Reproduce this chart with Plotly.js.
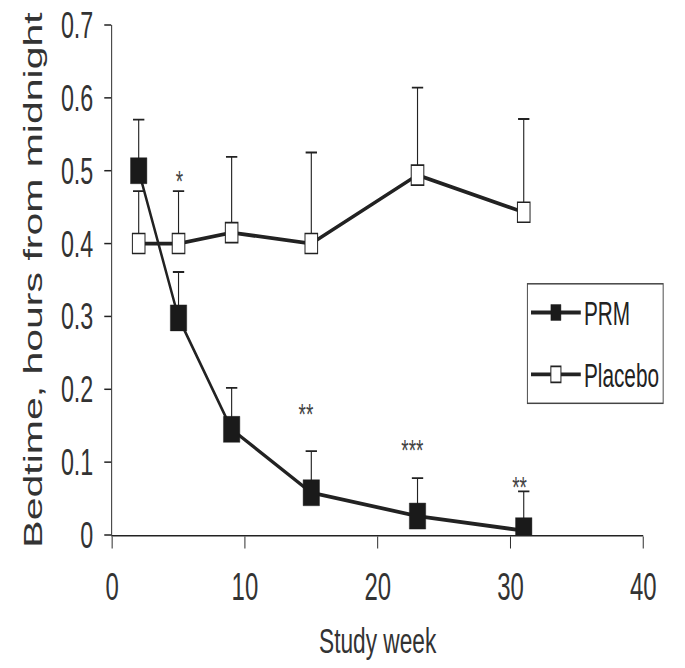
<!DOCTYPE html>
<html>
<head>
<meta charset="utf-8">
<script src="https://cdn.plot.ly/plotly-3.0.1.min.js"></script>
<style>
  html, body { margin: 0; padding: 0; background: #fff; overflow: hidden; }
  #wrap { width: 685px; height: 668px; overflow: hidden; position: relative; }
  #plot { position: absolute; left: 0; top: 0; width: 1087px; height: 668px;
          transform: scaleX(0.63); transform-origin: 0 0; }
</style>
</head>
<body>
<div id="wrap"><div id="plot"></div></div>
<script>
// ---- data ----
const weeks = [2, 5, 9, 15, 23, 31];
const prmBedtime = [0.500, 0.298, 0.145, 0.058, 0.026, 0.006];
const prmErr = [0.070, 0.063, 0.057, 0.057, 0.052, 0.054];
const placeboBedtime = [0.400, 0.400, 0.415, 0.400, 0.494, 0.443];
const placeboErr = [0.072, 0.072, 0.104, 0.125, 0.120, 0.128];
const sigWeeks = [5.1, 14.6, 22.6, 30.7];
const sigLevels = [0.486, 0.167, 0.117, 0.067];
const sigLabels = ['*', '**', '***', '**'];
const xTickVals = [0, 10, 20, 30, 40];
const yTickVals = [0, 0.1, 0.2, 0.3, 0.4, 0.5, 0.6, 0.7];
const seriesNames = ['PRM', 'Placebo'];

const FONT = 'Liberation Sans, Arial, Helvetica, sans-serif';
const INK = '#222222';

const traces = [
  {
    x: weeks, y: placeboBedtime, name: seriesNames[1], legendgroup: 'b', legendrank: 2,
    type: 'scatter', mode: 'lines+markers',
    line: { color: INK, width: 3.8 },
    marker: { symbol: 'square', size: 20, color: '#ffffff', line: { color: INK, width: 1.6 } },
    error_y: { type: 'data', array: placeboErr, symmetric: false, arrayminus: weeks.map(() => 0),
               color: INK, thickness: 1.8, width: 9 }
  },
  {
    x: weeks, y: prmBedtime, name: seriesNames[0], legendgroup: 'a', legendrank: 1,
    type: 'scatter', mode: 'lines+markers',
    line: { color: INK, width: 3.8 },
    marker: { symbol: 'square', size: 26, color: '#1a1a1a', line: { color: '#1a1a1a', width: 0.5 } },
    error_y: { type: 'data', array: prmErr, symmetric: false, arrayminus: weeks.map(() => 0),
               color: INK, thickness: 1.8, width: 9 }
  }
];

const annotations = sigLabels.map((t, i) => ({
  x: sigWeeks[i], y: sigLevels[i], xref: 'x', yref: 'y', text: t, showarrow: false,
  xanchor: 'center', yanchor: 'middle', font: { family: FONT, size: 30, color: '#444' }
}));

const layout = {
  width: 1087, height: 668,
  margin: { l: 178, r: 66, t: 25, b: 133, pad: 0 },
  paper_bgcolor: '#ffffff', plot_bgcolor: '#ffffff',
  font: { family: FONT, color: INK },
  showlegend: true,
  legend: {
    x: 0.781, y: 0.494, xanchor: 'left', yanchor: 'top',
    bordercolor: '#444', borderwidth: 1.5, bgcolor: '#ffffff',
    font: { family: FONT, size: 33, color: INK },
    traceorder: 'grouped', tracegroupgap: 16, itemwidth: 79
  },
  xaxis: {
    range: [0, 40], tickvals: xTickVals, ticktext: xTickVals.map(String),
    showline: true, linecolor: INK, linewidth: 1.5, mirror: false,
    ticks: 'outside', ticklen: 12, tickwidth: 1.5, tickcolor: INK,
    showgrid: false, zeroline: false,
    tickfont: { family: FONT, size: 38, color: '#333' }, ticklabelstandoff: 6,
    title: { text: 'Study week', font: { family: FONT, size: 36, color: '#333' }, standoff: 20 }
  },
  yaxis: {
    range: [0, 0.7], tickvals: yTickVals, ticktext: yTickVals.map(v => String(v)),
    showline: true, linecolor: INK, linewidth: 1.5,
    ticks: 'outside', ticklen: 11, tickwidth: 1.5, tickcolor: INK,
    showgrid: false, zeroline: false,
    tickfont: { family: FONT, size: 37, color: '#333' }, ticklabelstandoff: 10,
    title: { text: 'Bedtime, hours from midnight', font: { family: FONT, size: 41, color: '#333' }, standoff: 16 }
  },
  annotations: annotations
};

Plotly.newPlot('plot', traces, layout, { staticPlot: true, displayModeBar: false });
</script>
</body>
</html>
